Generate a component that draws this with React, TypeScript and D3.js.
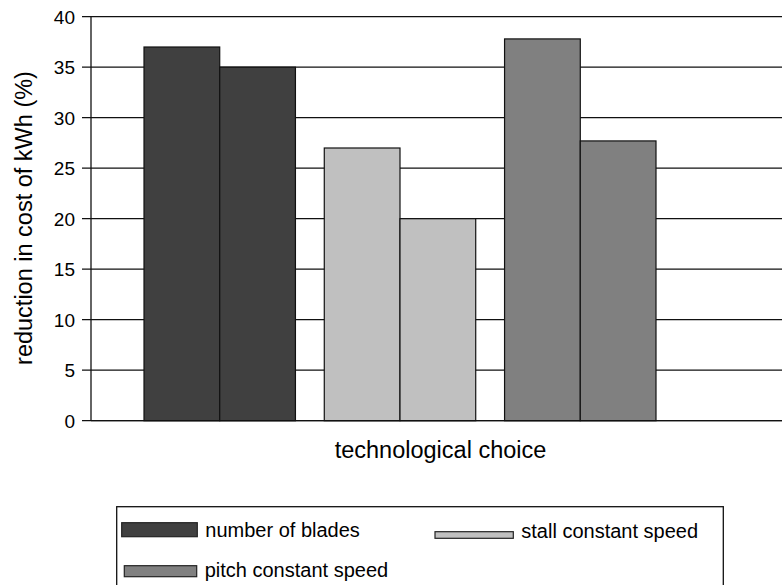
import { useEffect } from "react";
import { scaleLinear, scaleBand } from "d3";

const series = ["number of blades", "stall constant speed", "pitch constant speed"];
const variants = ["first", "second"];
const values = [
  [37, 35],
  [27, 20],
  [37.8, 27.7],
];
const colors = ["#404040", "#c0c0c0", "#808080"];
const yTicks = [0, 5, 10, 15, 20, 25, 30, 35, 40];
const yLabel = "reduction in cost of kWh (%)";
const xLabel = "technological choice";

const W = 782;
const H = 585;
const margin = { top: 16.7, right: -8, bottom: 164.3, left: 91 };
const font = "'Liberation Sans', Arial, Helvetica, sans-serif";

// legend key positions (Excel-ish keys, slightly different heights)
const legendItems = [
  { x: 121.7, base: 536.7, w: 75.6, h: 14 },
  { x: 435, base: 538.3, w: 78.3, h: 6.6 },
  { x: 124.3, base: 576.7, w: 72.4, h: 11 },
];

export default function App() {
  useEffect(() => {
    document.body.style.margin = "0";
  }, []);

  const innerW = W - margin.left - margin.right;
  const innerH = H - margin.top - margin.bottom;

  const y = scaleLinear().domain([0, 40]).range([innerH, 0]);
  const xGroup = scaleBand<string>()
    .domain(series)
    .range([144 - margin.left, 656 - margin.left])
    .paddingInner(0.16)
    .paddingOuter(0);
  const xInner = scaleBand<string>().domain(variants).range([0, xGroup.bandwidth()]);

  return (
    <svg width={W} height={H} style={{ display: "block", fontFamily: font }}>
      <rect width={W} height={H} fill="#fff" />
      <g transform={`translate(${margin.left},${margin.top})`}>
        {/* grid + ticks */}
        {yTicks.map((t) => (
          <g key={t} transform={`translate(0,${y(t)})`}>
            <line x1={-9} x2={innerW} stroke="#111" strokeWidth={1.3} />
            <text x={-16} dy="0.36em" textAnchor="end" fontSize={19} fill="#000">
              {t}
            </text>
          </g>
        ))}
        <line x1={0} x2={0} y1={0} y2={innerH} stroke="#111" strokeWidth={1.3} />

        {/* bars */}
        {series.map((s, i) => (
          <g key={s} transform={`translate(${xGroup(s)},0)`}>
            {variants.map((v, j) => (
              <rect
                key={v}
                x={xInner(v)}
                y={y(values[i][j])}
                width={xInner.bandwidth()}
                height={innerH - y(values[i][j])}
                fill={colors[i]}
                stroke="#111"
                strokeWidth={1.2}
              />
            ))}
          </g>
        ))}
        <line x1={0} x2={innerW} y1={innerH} y2={innerH} stroke="#111" strokeWidth={1.3} />

        <text
          x={innerW / 2}
          y={innerH + 37.5}
          textAnchor="middle"
          fontSize={23.5}
          fill="#000"
        >
          {xLabel}
        </text>
      </g>

      <text
        transform={`translate(31.5,${218}) rotate(-90)`}
        textAnchor="middle"
        fontSize={23.5}
        fill="#000"
      >
        {yLabel}
      </text>

      {/* legend */}
      <rect x={116.7} y={506.7} width={606.6} height={100} fill="#fff" stroke="#111" strokeWidth={1.3} />
      {series.map((s, i) => {
        const it = legendItems[i];
        return (
          <g key={s}>
            <rect
              x={it.x}
              y={it.base - it.h}
              width={it.w}
              height={it.h}
              fill={colors[i]}
              stroke="#222"
              strokeWidth={1.2}
            />
            <text x={it.x + it.w + 8} y={it.base} fontSize={20} fill="#000">
              {s}
            </text>
          </g>
        );
      })}
    </svg>
  );
}
